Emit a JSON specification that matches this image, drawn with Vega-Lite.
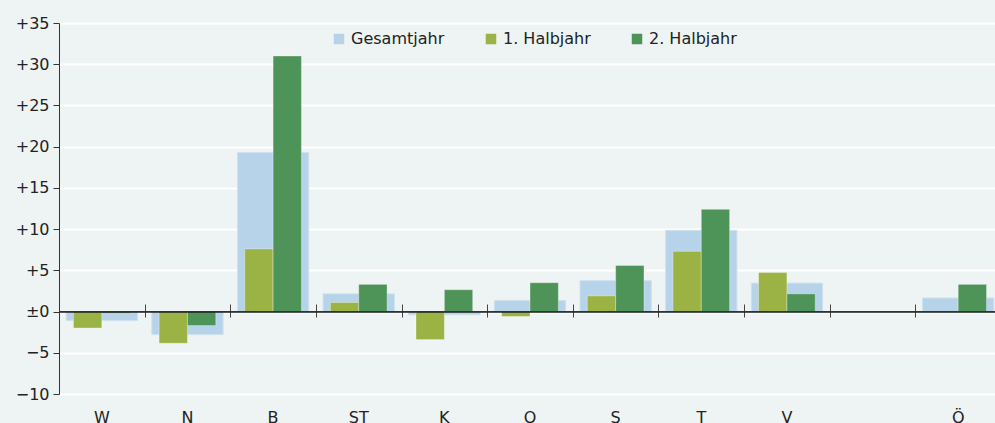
{
  "$schema": "https://vega.github.io/schema/vega-lite/v6.json",
  "autosize": "none",
  "width": 936,
  "height": 371,
  "padding": {"left": 59, "top": 23, "right": 0, "bottom": 29},
  "background": "#eef4f3",
  "config": {
    "view": {"stroke": null},
    "font": "DejaVu Sans"
  },
  "data": {
    "values": [
      {"region": "W", "serie": "Gesamtjahr", "wert": -1.1},
      {"region": "W", "serie": "1. Halbjahr", "wert": -2.0},
      {"region": "W", "serie": "2. Halbjahr", "wert": -0.2},
      {"region": "N", "serie": "Gesamtjahr", "wert": -2.8},
      {"region": "N", "serie": "1. Halbjahr", "wert": -3.85},
      {"region": "N", "serie": "2. Halbjahr", "wert": -1.7},
      {"region": "B", "serie": "Gesamtjahr", "wert": 19.3},
      {"region": "B", "serie": "1. Halbjahr", "wert": 7.6},
      {"region": "B", "serie": "2. Halbjahr", "wert": 31.0},
      {"region": "ST", "serie": "Gesamtjahr", "wert": 2.15},
      {"region": "ST", "serie": "1. Halbjahr", "wert": 1.1},
      {"region": "ST", "serie": "2. Halbjahr", "wert": 3.3},
      {"region": "K", "serie": "Gesamtjahr", "wert": -0.4},
      {"region": "K", "serie": "1. Halbjahr", "wert": -3.4},
      {"region": "K", "serie": "2. Halbjahr", "wert": 2.65},
      {"region": "O", "serie": "Gesamtjahr", "wert": 1.35},
      {"region": "O", "serie": "1. Halbjahr", "wert": -0.6},
      {"region": "O", "serie": "2. Halbjahr", "wert": 3.5},
      {"region": "S", "serie": "Gesamtjahr", "wert": 3.75},
      {"region": "S", "serie": "1. Halbjahr", "wert": 1.9},
      {"region": "S", "serie": "2. Halbjahr", "wert": 5.6},
      {"region": "T", "serie": "Gesamtjahr", "wert": 9.85},
      {"region": "T", "serie": "1. Halbjahr", "wert": 7.3},
      {"region": "T", "serie": "2. Halbjahr", "wert": 12.4},
      {"region": "V", "serie": "Gesamtjahr", "wert": 3.45},
      {"region": "V", "serie": "1. Halbjahr", "wert": 4.75},
      {"region": "V", "serie": "2. Halbjahr", "wert": 2.15},
      {"region": "Ö", "serie": "Gesamtjahr", "wert": 1.65},
      {"region": "Ö", "serie": "1. Halbjahr", "wert": 0},
      {"region": "Ö", "serie": "2. Halbjahr", "wert": 3.3}
    ]
  },
  "resolve": {"scale": {"x": "shared"}, "axis": {"x": "independent"}},
  "encoding": {
    "y": {
      "field": "wert",
      "type": "quantitative",
      "scale": {"domain": [-10, 35], "nice": false, "zero": false},
      "axis": {
        "title": null,
        "values": [-10, -5, 0, 5, 10, 15, 20, 25, 30, 35],
        "labelExpr": "datum.value > 0 ? '+' + datum.value : (datum.value == 0 ? '±0' : '−' + abs(datum.value))",
        "labelFontSize": 16,
        "labelColor": "#222222",
        "labelPadding": 4,
        "tickSize": 6,
        "tickColor": "#333333",
        "domainColor": "#333333",
        "domainWidth": 1,
        "grid": true,
        "gridColor": "#ffffff",
        "gridWidth": 2
      }
    },
    "color": {
      "field": "serie",
      "type": "nominal",
      "scale": {
        "domain": ["Gesamtjahr", "1. Halbjahr", "2. Halbjahr"],
        "range": ["#b7d3e9", "#9bb244", "#4e9459"]
      },
      "legend": {
        "title": null,
        "orient": "none",
        "direction": "horizontal",
        "legendX": 272,
        "legendY": 8,
        "symbolType": "square",
        "symbolSize": 110,
        "symbolStrokeWidth": 0,
        "labelFontSize": 16,
        "labelColor": "#222222",
        "labelOffset": 4,
        "columnPadding": 38
      }
    }
  },
  "layer": [
    {
      "transform": [{"filter": "datum.serie == 'Gesamtjahr'"}],
      "mark": {"type": "bar", "width": {"band": 0.833}, "stroke": "#cfe2f0", "strokeWidth": 1},
      "encoding": {
        "x": {
          "field": "region",
          "type": "nominal",
          "scale": {
            "domain": ["W", "N", "B", "ST", "K", "O", "S", "T", "V", " ", "Ö"],
            "range": [0, 942],
            "paddingInner": 0,
            "paddingOuter": 0
          },
          "axis": {
            "orient": "bottom",
            "title": null,
            "domain": false,
            "ticks": false,
            "grid": false,
            "labelFontSize": 16,
            "labelColor": "#222222",
            "labelPadding": 15,
            "labelAngle": 0
          }
        }
      }
    },
    {
      "transform": [{"filter": "datum.serie != 'Gesamtjahr'"}],
      "mark": {"type": "bar", "stroke": "#ffffff", "strokeOpacity": 0.35, "strokeWidth": 1},
      "encoding": {
        "x": {
          "field": "region",
          "type": "nominal",
          "axis": {
            "orient": "top",
            "title": null,
            "offset": -294,
            "domain": false,
            "labels": false,
            "ticks": true,
            "tickBand": "extent",
            "tickSize": 13,
            "tickColor": "#444444",
            "tickWidth": 1,
            "grid": false
          }
        },
        "xOffset": {
          "field": "serie",
          "type": "nominal",
          "scale": {"domain": ["1. Halbjahr", "2. Halbjahr"], "paddingInner": 0, "paddingOuter": 0.51}
        }
      }
    },
    {
      "mark": {"type": "rule", "color": "#333333", "strokeWidth": 1},
      "encoding": {"y": {"datum": 0}, "color": {"value": "#333333"}}
    }
  ]
}
